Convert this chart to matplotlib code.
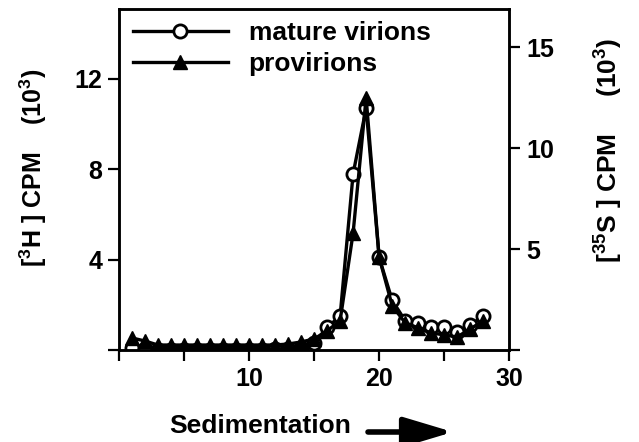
import matplotlib
matplotlib.use('Agg')
import matplotlib.pyplot as plt
from matplotlib.lines import Line2D

plt.rcParams['font.family'] = ['Liberation Sans', 'DejaVu Sans']
plt.rcParams['font.weight'] = 'bold'
plt.rcParams['mathtext.fontset'] = 'custom'
plt.rcParams['mathtext.bf'] = 'Liberation Sans:bold'
plt.rcParams['mathtext.rm'] = 'Liberation Sans:bold'
plt.rcParams['mathtext.default'] = 'bf'

# fraction number (sedimentation)
fraction = list(range(1, 29))
# mature virions, [3H] CPM (10^3), left axis
mature = [0.10, 0.03, 0.02, 0.02, 0.02, 0.02, 0.02, 0.02, 0.02, 0.02,
          0.02, 0.03, 0.05, 0.10, 0.30, 1.00, 1.50, 7.80, 10.70, 4.10,
          2.20, 1.30, 1.20, 1.00, 1.00, 0.80, 1.10, 1.50]
# provirions, [35S] CPM (10^3), right axis
provirions = [0.60, 0.45, 0.25, 0.25, 0.25, 0.25, 0.25, 0.25, 0.25, 0.25,
              0.25, 0.25, 0.30, 0.40, 0.55, 0.95, 1.45, 5.80, 12.50, 4.60,
              2.20, 1.35, 1.10, 0.85, 0.75, 0.65, 1.05, 1.45]

fig = plt.figure(figsize=(6.39, 4.42), dpi=100)
ax = fig.add_axes([0.186, 0.208, 0.611, 0.772])
ax2 = ax.twinx()

ax.plot(fraction, mature, color='black', lw=2.4, marker='o', ms=9.5,
        mfc='white', mec='black', mew=2)
ax2.plot(fraction, provirions, color='black', lw=2.4, marker='^', ms=10.5,
         mfc='black', mec='black')

ax.set_xlim(0, 30)
ax.set_ylim(0, 15.1)
ax2.set_ylim(0, 16.9)

ax.set_xticks([0, 5, 10, 15, 20, 25, 30])
ax.set_xticklabels(['', '', '10', '', '20', '', '30'])
ax.set_yticks([0, 4, 8, 12])
ax.set_yticklabels(['', '4', '8', '12'])
ax2.set_yticks([0, 5, 10, 15])
ax2.set_yticklabels(['', '5', '10', '15'])

for a in (ax, ax2):
    for s in a.spines.values():
        s.set_linewidth(1.8)
    a.tick_params(length=8, width=1.6, labelsize=18, pad=4)

fig.text(260 / 639, 1 - 426 / 442, 'Sedimentation', ha='center', va='center',
         fontsize=19, fontweight='bold')
ax.annotate('', xy=(453, 10), xytext=(368, 10), xycoords='figure pixels',
            textcoords='figure pixels',
            arrowprops=dict(arrowstyle='-|>,head_length=1.5,head_width=0.45',
                            lw=4, color='black', mutation_scale=20,
                            shrinkA=0, shrinkB=0))

fig.text(33 / 639, 1 - 168 / 442, r'[$^{3}$H ] CPM    (10$^{3}$)', rotation=90,
         ha='center', va='center', fontsize=18, fontweight='bold')
fig.text(609 / 639, 1 - 150 / 442, r'[$^{35}$S ] CPM     (10$^{3}$)', rotation=90,
         ha='center', va='center', fontsize=19, fontweight='bold')

handles = [Line2D([], [], color='black', lw=2.4, marker='o', ms=9.5,
                  mfc='white', mec='black', mew=2),
           Line2D([], [], color='black', lw=2.4, marker='^', ms=10.5,
                  mfc='black', mec='black')]
ax2.legend(handles, ['mature virions', 'provirions'], loc='upper left',
           bbox_to_anchor=(0.035, 0.965), frameon=False, fontsize=19,
           handlelength=3.6, handletextpad=0.8, labelspacing=0.28,
           borderpad=0, borderaxespad=0)

fig.savefig('out.png', dpi=100)
